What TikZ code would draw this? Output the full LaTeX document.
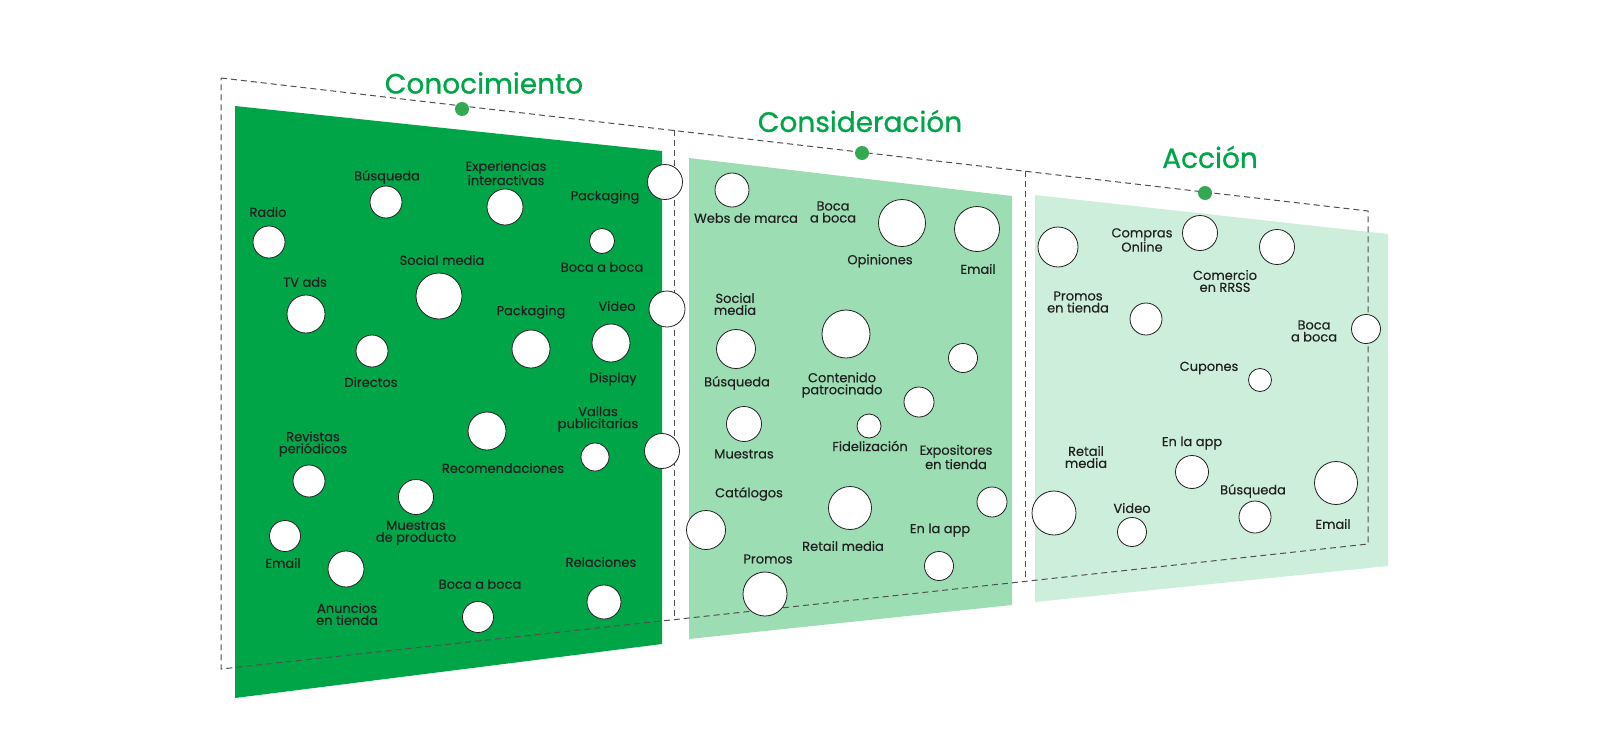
\documentclass[tikz,border=0pt]{standalone}
\usepackage{fontspec}
\setmainfont{Poppins}
\newfontfamily\labelfont{Poppins}[FakeBold=0.35]
\newfontfamily\titlefont{Poppins}[FakeBold=0.9]
\usepackage{xcolor}
\usetikzlibrary{calc}
\definecolor{brandGreen}{RGB}{0,165,72}
\definecolor{midGreen}{RGB}{156,221,180}
\definecolor{paleGreen}{RGB}{205,238,218}
\definecolor{dotGreen}{RGB}{52,168,83}
\definecolor{inkGray}{RGB}{33,33,33}
\definecolor{frameGray}{RGB}{80,80,80}

\begin{document}
\begin{tikzpicture}[x=1pt,y=-1pt,
  touch/.style={circle,draw=inkGray,fill=white,line width=0.8pt,inner sep=0pt,minimum size=#1},
  lbl/.style={inner sep=0pt,align=center,text=inkGray,font=\labelfont\fontsize{13}{12}\selectfont},
  stagetitle/.style={inner sep=0pt,text=brandGreen,font=\titlefont\fontsize{28}{30}\selectfont},
  stagedot/.style={circle,fill=dotGreen,inner sep=0pt,minimum size=14},
  stageframe/.style={draw=frameGray,line width=1pt,dash pattern=on 6pt off 4pt}]
\useasboundingbox (0,0) rectangle (1600,750);

% paneles
\fill[brandGreen] (235,106) -- (662,151) -- (662,644) -- (235,698) -- cycle;
\fill[midGreen] (689,158) -- (1012,196) -- (1012,605) -- (689,639) -- cycle;
\fill[paleGreen] (1035,195) -- (1388,234) -- (1388,566) -- (1035,602) -- cycle;

% marcos punteados
\coordinate (fA) at (221,78);
\coordinate (fB) at (674,130);
\coordinate (fC) at (1025,171);
\coordinate (fD) at (1368,211);
\coordinate (gA) at (221,669);
\coordinate (gB) at (674,619);
\coordinate (gC) at (1025,581);
\coordinate (gD) at (1368,544);
\draw[stageframe] (fA) -- (fD) -- (gD) -- (gA) -- cycle;
\draw[stageframe] (fB) -- (gB);
\draw[stageframe] (fC) -- (gC);

% etapas
\node[stagedot] (dot1) at (462,109) {};
\node[stagedot] (dot2) at (862,153) {};
\node[stagedot] (dot3) at (1205,193) {};
\node[stagetitle] (conocimiento) at (484,83) {Conocimiento};
\node[stagetitle] (consideracion) at (860,121) {Consideración};
\node[stagetitle] (accion) at (1210,157) {Acción};

% Conocimiento
\node[touch=32] (busq1) at (386,202) {};
\node[lbl] (busq1Lbl) at (387,177) {Búsqueda};
\node[touch=36] (expe) at (505,207) {};
\node[lbl] (expeLbl) at (506,173) {Experiencias\\interactivas};
\node[touch=35] (pack1) at (665,182) {};
\node[lbl] (pack1Lbl) at (605,197) {Packaging};
\node[touch=32] (radio) at (269,242) {};
\node[lbl] (radioLbl) at (268,212) {Radio};
\node[touch=25] (boca1) at (602,241) {};
\node[lbl] (boca1Lbl) at (602,267) {Boca a boca};
\node[touch=46] (social1) at (439,296) {};
\node[lbl] (social1Lbl) at (442,260) {Social media};
\node[touch=38] (tvads) at (306,314) {};
\node[lbl] (tvadsLbl) at (305,282) {TV ads};
\node[touch=36] (video1) at (667,309) {};
\node[lbl] (video1Lbl) at (617,306) {Video};
\node[touch=38] (pack2) at (531,349) {};
\node[lbl] (pack2Lbl) at (531,312) {Packaging};
\node[touch=38] (display) at (611,343) {};
\node[lbl] (displayLbl) at (613,379) {Display};
\node[touch=32] (directos) at (372,351) {};
\node[lbl] (directosLbl) at (371,382) {Directos};
\node[touch=38] (recom) at (487,431) {};
\node[lbl] (recomLbl) at (503,468) {Recomendaciones};
\node[touch=28] (vallas) at (595,457) {};
\node[lbl] (vallasLbl) at (598,419) {Vallas\\publicitarias};
\node[touch=35] (borde1) at (662,451) {};
\node[touch=32] (revistas) at (309,481) {};
\node[lbl] (revistasLbl) at (313,444) {Revistas\\periódicos};
\node[touch=35] (muestras1) at (416,497) {};
\node[lbl] (muestras1Lbl) at (416,533) {Muestras\\de producto};
\node[touch=31] (email1) at (285,536) {};
\node[lbl] (email1Lbl) at (283,563) {Email};
\node[touch=36] (anuncios) at (346,569) {};
\node[lbl] (anunciosLbl) at (347,614) {Anuncios\\en tienda};
\node[touch=31] (boca2) at (478,617) {};
\node[lbl] (boca2Lbl) at (480,584) {Boca a boca};
\node[touch=34] (relaciones) at (604,602) {};
\node[lbl] (relacionesLbl) at (601,562) {Relaciones};

% Consideracion
\node[touch=34] (webs) at (732,190) {};
\node[lbl] (websLbl) at (746,218) {Webs de marca};
\node[lbl] (boca3Lbl) at (833,212) {Boca\\a boca};
\node[touch=47] (opiniones) at (902,223) {};
\node[lbl] (opinionesLbl) at (880,261) {Opiniones};
\node[touch=45] (email2) at (977,229) {};
\node[lbl] (email2Lbl) at (978,269) {Email};
\node[touch=39] (social2) at (736,349) {};
\node[lbl] (social2Lbl) at (735,304) {Social\\media};
\node[touch=48] (contenido) at (846,334) {};
\node[lbl] (contenidoLbl) at (842,385) {Contenido\\patrocinado};
\node[touch=29] (libre1) at (963,358) {};
\node[lbl] (busq2Lbl) at (737,383) {Búsqueda};
\node[touch=30] (libre2) at (919,402) {};
\node[touch=35] (muestras2) at (744,424) {};
\node[lbl] (muestras2Lbl) at (744,454) {Muestras};
\node[touch=24] (fidel) at (869,426) {};
\node[lbl] (fidelLbl) at (870,446) {Fidelización};
\node[lbl] (expoLbl) at (956,457) {Expositores\\en tienda};
\node[touch=30] (expo) at (992,502) {};
\node[touch=39] (catalogos) at (706,530) {};
\node[lbl] (catalogosLbl) at (749,494) {Catálogos};
\node[touch=43] (retail2) at (850,508) {};
\node[lbl] (retail2Lbl) at (843,546) {Retail media};
\node[touch=29] (app2) at (939,566) {};
\node[lbl] (app2Lbl) at (940,530) {En la app};
\node[touch=44] (promos) at (765,594) {};
\node[lbl] (promosLbl) at (768,559) {Promos};

% Accion
\node[touch=40] (libre3) at (1058,247) {};
\node[touch=35] (compras) at (1200,233) {};
\node[lbl] (comprasLbl) at (1142,240) {Compras\\Online};
\node[touch=35] (comercio) at (1277,247) {};
\node[lbl] (comercioLbl) at (1225,281) {Comercio\\en RRSS};
\node[lbl] (promos3Lbl) at (1078,302) {Promos\\en tienda};
\node[touch=32] (promos3) at (1146,319) {};
\node[touch=29] (boca4) at (1366,329) {};
\node[lbl] (boca4Lbl) at (1314,331) {Boca\\a boca};
\node[touch=23] (cupones) at (1260,380) {};
\node[lbl] (cuponesLbl) at (1209,368) {Cupones};
\node[touch=44] (retail3) at (1054,513) {};
\node[lbl] (retail3Lbl) at (1086,457) {Retail\\media};
\node[touch=33] (app3) at (1192,472) {};
\node[lbl] (app3Lbl) at (1192,443) {En la app};
\node[touch=29] (video3) at (1132,532) {};
\node[lbl] (video3Lbl) at (1132,508) {Video};
\node[touch=32] (busq3) at (1255,517) {};
\node[lbl] (busq3Lbl) at (1253,491) {Búsqueda};
\node[touch=43] (email3) at (1336,483) {};
\node[lbl] (email3Lbl) at (1333,524) {Email};
\end{tikzpicture}
\end{document}
